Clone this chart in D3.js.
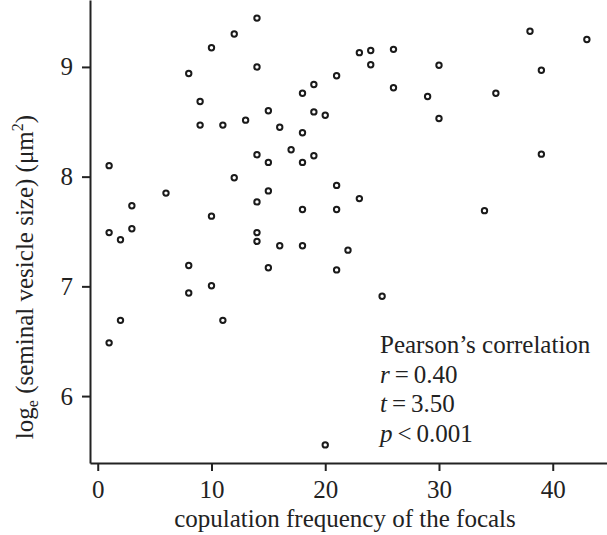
<!DOCTYPE html>
<html>
<head>
<meta charset="utf-8">
<script src="https://cdn.jsdelivr.net/npm/d3@7"></script>
<style>
  html, body { margin: 0; padding: 0; background: #fff; }
  svg { display: block; }
</style>
</head>
<body>
<div id="chart"></div>
<script>
// copulation frequency of each focal male
const copulationFreq = [
  10, 8, 9, 9, 1, 14, 12, 14, 23, 24, 26, 24, 26, 21, 19, 18,
  15, 19, 20, 11, 13, 16, 18, 14, 15, 17, 18, 19, 12, 38, 43, 30,
  39, 29, 35, 30, 39, 6, 3, 1, 2, 3, 8, 8, 10, 2, 1, 10,
  15, 14, 21, 23, 18, 21, 14, 14, 16, 18, 22, 15, 21, 25, 11, 34, 20
];
// log_e seminal vesicle size
const logVesicleSize = [
  9.175, 8.94, 8.685, 8.47, 8.10, 9.445, 9.30, 9.00, 9.13, 9.15, 9.16, 9.02, 8.81, 8.92, 8.84, 8.76,
  8.60, 8.59, 8.56, 8.47, 8.515, 8.45, 8.40, 8.20, 8.13, 8.245, 8.13, 8.19, 7.99, 9.325, 9.25, 9.015,
  8.97, 8.73, 8.76, 8.53, 8.205, 7.85, 7.735, 7.49, 7.425, 7.525, 7.19, 6.94, 7.005, 6.69, 6.485, 7.64,
  7.87, 7.77, 7.92, 7.80, 7.70, 7.70, 7.49, 7.41, 7.37, 7.37, 7.33, 7.17, 7.15, 6.91, 6.69, 7.69, 5.555
];
const xTicks = [0, 10, 20, 30, 40];
const yTicks = [6, 7, 8, 9];
const statLines = [
  { sym: '', text: 'Pearson\u2019s correlation' },
  { sym: 'r', text: '\u2009=\u20090.40' },
  { sym: 't', text: '\u2009=\u20093.50' },
  { sym: 'p', text: '\u2009<\u20090.001' }
];

const W = 607, H = 535;
const FONT = "'Liberation Serif', 'Times New Roman', serif";
const FS = '25px';
const INK = '#222';

const svg = d3.select('#chart').append('svg')
  .attr('width', W).attr('height', H)
  .attr('viewBox', `0 0 ${W} ${H}`);

const x = d3.scaleLinear().domain([-0.68, 44.77]).range([90, 607]);
const y = d3.scaleLinear().domain([5.39, 9.61]).range([463, 0]);

// axes
const xAxis = svg.append('g')
  .attr('transform', `translate(0,${y.range()[0]})`)
  .call(d3.axisBottom(x).tickValues(xTicks).tickFormat(d3.format('d'))
    .tickSize(8).tickSizeOuter(0).tickPadding(9));
const yAxis = svg.append('g')
  .attr('transform', `translate(${x.range()[0]},0)`)
  .call(d3.axisLeft(y).tickValues(yTicks).tickFormat(d3.format('d'))
    .tickSize(8).tickSizeOuter(0).tickPadding(9));

[xAxis, yAxis].forEach(a => {
  a.select('.domain').attr('stroke', INK).attr('stroke-width', 2);
  a.selectAll('.tick line').attr('stroke', INK).attr('stroke-width', 2);
  a.selectAll('.tick text')
    .attr('fill', INK)
    .style('font-family', FONT)
    .style('font-size', FS);
});

// points
svg.append('g').selectAll('circle')
  .data(copulationFreq.map((d, i) => [d, logVesicleSize[i]]))
  .join('circle')
  .attr('cx', d => x(d[0]))
  .attr('cy', d => y(d[1]))
  .attr('r', 2.7)
  .attr('fill', 'none')
  .attr('stroke', '#1a1a1a')
  .attr('stroke-width', 2);

// x title
svg.append('text')
  .attr('x', 345).attr('y', 527)
  .attr('text-anchor', 'middle')
  .attr('fill', INK)
  .style('font-family', FONT)
  .style('font-size', FS)
  .text('copulation frequency of the focals');

// y title
const yt = svg.append('text')
  .attr('transform', 'translate(33,277) rotate(-90)')
  .attr('text-anchor', 'middle')
  .attr('fill', INK)
  .style('font-family', FONT)
  .style('font-size', FS);
yt.append('tspan').text('log');
yt.append('tspan').attr('dy', 5).style('font-size', '16px').text('e');
yt.append('tspan').attr('dy', -5).text(' (seminal vesicle size) (\u03bcm');
yt.append('tspan').attr('dy', -10).style('font-size', '16px').text('2');
yt.append('tspan').attr('dy', 10).text(')');

// stats annotation
const stats = svg.append('g')
  .style('font-family', FONT)
  .style('font-size', FS)
  .attr('fill', INK);
statLines.forEach((l, i) => {
  const t = stats.append('text')
    .attr('x', 380)
    .attr('y', 353 + i * 29.7);
  if (l.sym) t.append('tspan').style('font-style', 'italic').text(l.sym);
  t.append('tspan').text(l.text);
});
</script>
</body>
</html>
